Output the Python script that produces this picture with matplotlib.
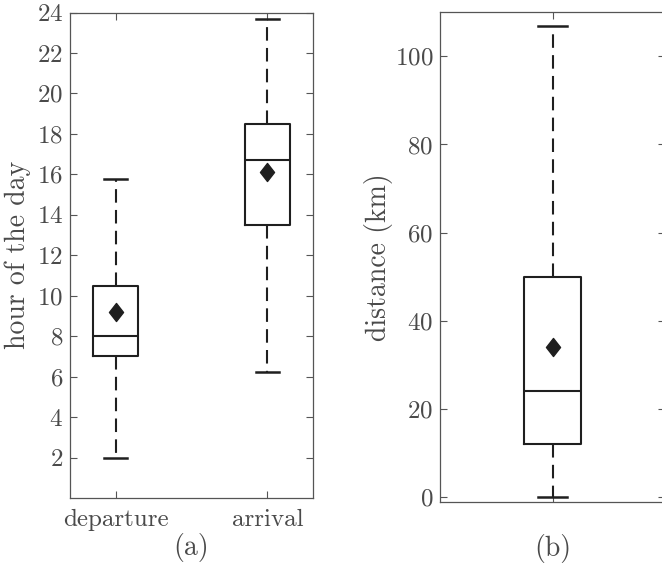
import matplotlib
matplotlib.use("Agg")
import matplotlib.pyplot as plt
from matplotlib.path import Path

plt.rcParams["font.family"] = "cmr10"
plt.rcParams["axes.formatter.use_mathtext"] = True
plt.rcParams["font.size"] = 18

# trip timing (hour of the day)
time_labels = ["departure", "arrival"]
time_whislo = [2.0, 6.25]
time_q1 = [7.0, 13.5]
time_med = [8.0, 16.7]
time_q3 = [10.5, 18.5]
time_whishi = [15.75, 23.7]
time_mean = [9.2, 16.1]

# trip distance (km)
dist_whislo = 0.0
dist_q1 = 12.0
dist_med = 24.0
dist_q3 = 50.0
dist_whishi = 106.9
dist_mean = 34.0

text_color = "#4a4a4a"
spine_color = "#555555"
line_color = "#1f1f1f"

diamond = Path([(0, 1), (0.78, 0), (0, -1), (-0.78, 0), (0, 1)],
               [Path.MOVETO, Path.LINETO, Path.LINETO, Path.LINETO, Path.CLOSEPOLY])

box_kw = dict(
    showmeans=True,
    showfliers=False,
    boxprops=dict(color=line_color, linewidth=1.5),
    medianprops=dict(color=line_color, linewidth=1.5),
    whiskerprops=dict(color=line_color, linewidth=1.5, linestyle=(0, (6.5, 3.5))),
    capprops=dict(color=line_color, linewidth=1.8),
    meanprops=dict(marker=diamond, markerfacecolor=line_color,
                   markeredgecolor=line_color, markersize=13),
)


def style_axes(ax):
    for s in ax.spines.values():
        s.set_color(spine_color)
        s.set_linewidth(0.9)
    ax.tick_params(direction="in", top=True, right=True, colors=spine_color,
                   labelcolor=text_color, length=5, width=0.8, labelsize=18)


fig = plt.figure(figsize=(6.62, 5.70), dpi=100)

# (a) departure / arrival hours
ax1 = fig.add_axes([70 / 662, 1 - 498 / 570, 243 / 662, (498 - 12.5) / 570])
stats_a = []
for i in range(len(time_labels)):
    stats_a.append(dict(label=time_labels[i], whislo=time_whislo[i], q1=time_q1[i],
                        med=time_med[i], q3=time_q3[i], whishi=time_whishi[i],
                        mean=time_mean[i], fliers=[]))
ax1.bxp(stats_a, positions=[1, 2], widths=0.3, **box_kw)
ax1.set_xlim(0.7, 2.3)
ax1.set_ylim(0, 24)
ax1.set_yticks(range(2, 25, 2))
ax1.set_xticks([1, 2])
ax1.set_xticklabels(time_labels)
style_axes(ax1)
ax1.tick_params(axis="y", pad=5)
ax1.tick_params(axis="x", pad=8)
ax1.set_ylabel("hour of the day", color=text_color, fontsize=20, labelpad=4)
ax1.set_xlabel("(a)", color=text_color, fontsize=20, labelpad=1)

# (b) trip distance
ax2 = fig.add_axes([440 / 662, 1 - 501.7 / 570, 225 / 662, (501.7 - 12.3) / 570])
stats_b = [dict(label="", whislo=dist_whislo, q1=dist_q1, med=dist_med, q3=dist_q3,
                whishi=dist_whishi, mean=dist_mean, fliers=[])]
ax2.bxp(stats_b, positions=[1], widths=0.25, **box_kw)
ax2.set_xlim(0.5, 1.5)
ax2.set_ylim(-1.1, 110)
ax2.set_yticks(range(0, 101, 20))
ax2.set_xticks([1])
ax2.set_xticklabels([""])
style_axes(ax2)
ax2.tick_params(axis="y", pad=5)
ax2.set_ylabel("distance (km)", color=text_color, fontsize=20, labelpad=1)
ax2.set_xlabel("(b)", color=text_color, fontsize=20, labelpad=20)

fig.savefig("out.png", dpi=100)
